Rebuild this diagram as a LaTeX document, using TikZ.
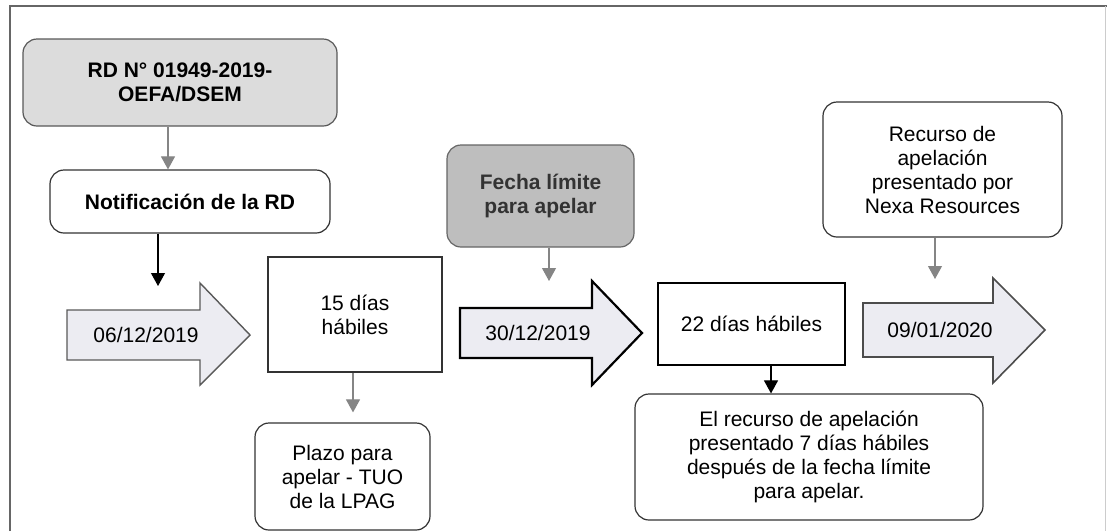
\documentclass[tikz,border=0pt]{standalone}
\usepackage{fontspec}
\setmainfont{Liberation Sans}
\usetikzlibrary{arrows.meta}
\definecolor{lgray}{HTML}{DCDCDC}
\definecolor{mgray}{HTML}{BEBEBE}
\definecolor{afill}{HTML}{ECECF2}
\definecolor{cgray}{HTML}{858585}
\definecolor{bdark}{HTML}{333333}
\begin{document}
\begin{tikzpicture}[x=1pt,y=-1pt,
  every node/.style={font=\fontsize{21}{24}\selectfont, align=center, inner sep=2pt},
  rbox/.style={draw=bdark, line width=1.2pt, rounded corners=14pt},
  sbox/.style={draw=bdark, line width=1.6pt},
  bigarrow/.style={draw=#1, fill=afill, line width=1.4pt, line join=miter},
  gconn/.style={draw=cgray, line width=1.1pt, -{Triangle[width=14pt,length=13pt]}, cgray},
  dconn/.style={draw=bdark, line width=1.1pt, -{Triangle[width=14pt,length=13pt]}, black}
]
\useasboundingbox (0,0) rectangle (1107,531);
% frame
\draw[draw=black!60, line width=1.5pt] (10,531) -- (10,6) -- (1107,6);
\draw[draw=black!20, line width=1pt] (1105,6) -- (1105,531);

% boxes
\node[rbox, fill=lgray, draw=black!65, minimum width=314pt, minimum height=87pt] (rd) at (180,82.5) {\textbf{RD N° 01949-2019-}\\\textbf{OEFA/DSEM}};
\node[rbox, minimum width=280pt, minimum height=63pt] (notif) at (190,201.5) {\textbf{Notificación de la RD}};
\node[sbox, minimum width=174pt, minimum height=115pt] (d15) at (355,314.5) {15 días\\hábiles};
\node[rbox, minimum width=175pt, minimum height=107pt] (plazo) at (342.5,476.5) {Plazo para\\apelar - TUO\\de la LPAG};
\node[rbox, fill=mgray, draw=black!60, minimum width=187pt, minimum height=102pt, text=black!80] (fecha) at (540.5,196) {\textbf{Fecha límite}\\\textbf{para apelar}};
\node[sbox, draw=black, line width=2pt, minimum width=187pt, minimum height=82pt] (d22) at (751.5,324) {22 días hábiles};
\node[rbox, minimum width=348pt, minimum height=126pt] (elrec) at (809,457) {El recurso de apelación\\presentado 7 días hábiles\\después de la fecha límite\\para apelar.};
\node[rbox, minimum width=239pt, minimum height=135pt] (recurso) at (942.5,169.5) {Recurso de\\apelación\\presentado por\\Nexa Resources};

% big arrows
\draw[bigarrow=black!65] (67,310) -- (200,310) -- (200,283) -- (250,335) -- (200,385) -- (200,360) -- (67,360) -- cycle;
\node (a1) at (146,335) {06/12/2019};
\draw[bigarrow=black, line width=2.2pt] (460,308) -- (592,308) -- (592,281) -- (642,333) -- (592,385) -- (592,358) -- (460,358) -- cycle;
\node (a2) at (538,333) {30/12/2019};
\draw[bigarrow=black!70, line width=1.6pt] (863,303) -- (993,303) -- (993,278) -- (1045,330) -- (993,383) -- (993,357) -- (863,357) -- cycle;
\node (a3) at (940,330) {09/01/2020};

% connector end points on the big arrows
\coordinate (a1top) at (158,286);
\coordinate (a2top) at (549,281);
\coordinate (a3top) at (935,279);

% connectors
\draw[gconn] ([xshift=-12pt]rd.south) -- ([xshift=-22pt]notif.north);
\draw[dconn] ([xshift=-32pt]notif.south) -- (a1top);
\draw[gconn, shorten >=10pt] ([xshift=-2pt]d15.south) -- ([xshift=10.5pt]plazo.north);
\draw[gconn] (fecha.south -| a2top) -- (a2top);
\draw[dconn] ([xshift=19.5pt]d22.south) -- ([xshift=-38pt]elrec.north);
\draw[gconn] (recurso.south -| a3top) -- (a3top);
\end{tikzpicture}
\end{document}
